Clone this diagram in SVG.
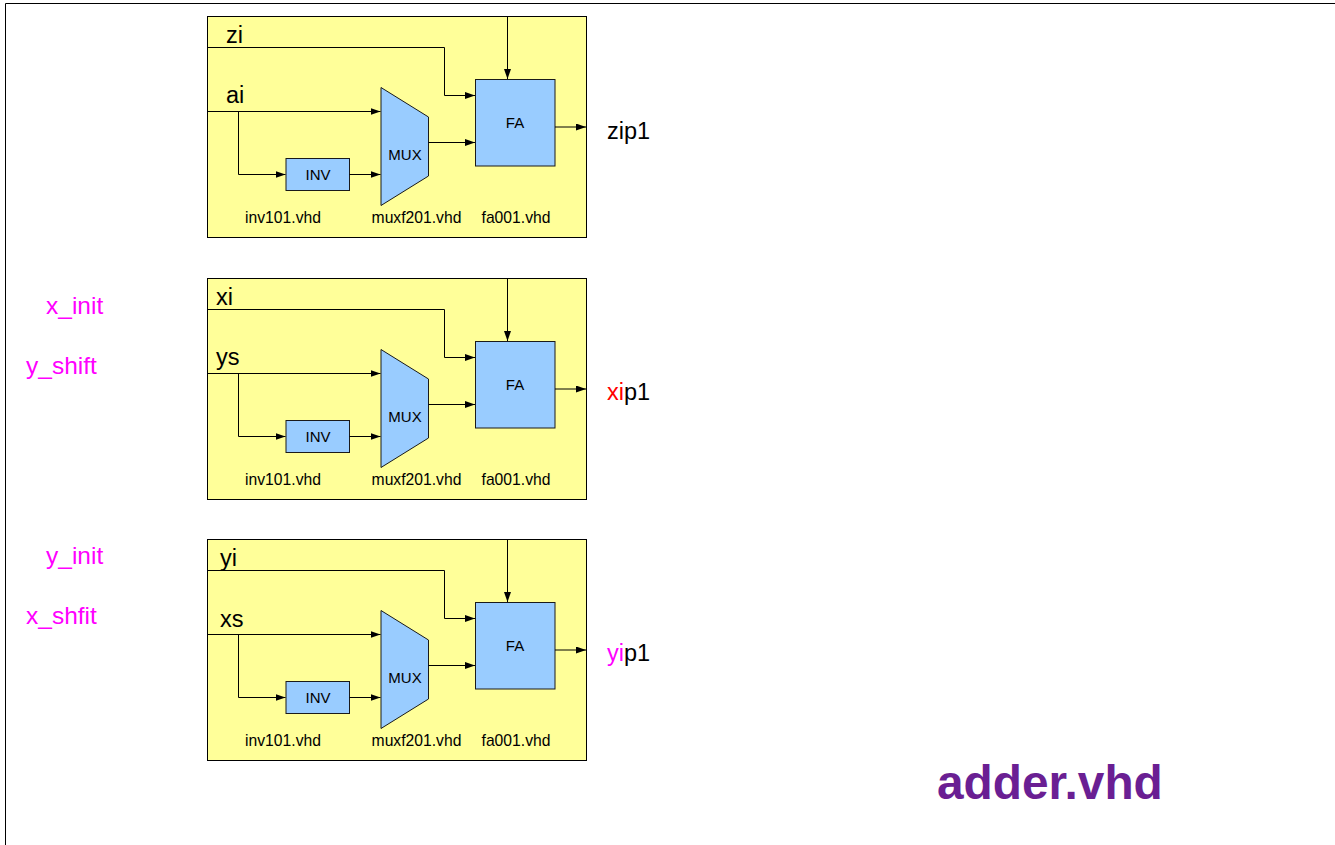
<svg xmlns="http://www.w3.org/2000/svg" width="1335" height="845" viewBox="0 0 1335 845">
<style>
text{font-family:"Liberation Sans",Arial,Helvetica,sans-serif;fill:#000}
.bg{fill:#ffff99;stroke:#000;stroke-width:1}
.bl{fill:#99ccff;stroke:#1a1a1a;stroke-width:1}
.c{fill:none;stroke:#000;stroke-width:1;marker-end:url(#a)}
.sig{font-size:23.5px}
.mux{font-size:15px;text-anchor:middle}
.file{font-size:15.7px;text-anchor:middle}
.out{font-size:23.5px}
.mg{font-size:24.5px;fill:#ff00ff}
</style>
<defs>
<marker id="a" markerUnits="userSpaceOnUse" markerWidth="10" markerHeight="7" refX="10" refY="3.500" orient="auto"><path d="M0 0L10 3.500L0 7Z" fill="#000"/></marker>
</defs>
<rect width="1335" height="845" fill="#fff"/>
<path id="frame" d="M5.500 845V3.500H1335" fill="none" stroke="#000" stroke-width="1"/>

<g id="block-zi">
<rect class="bg" x="207.500" y="16.500" width="379" height="221"/>
<text class="sig" x="226" y="43">zi</text>
<text class="sig" x="226" y="103">ai</text>
</g>
<g id="inv-1"><rect class="bl" x="286" y="158.500" width="63.500" height="32"/><text class="mux" x="318" y="180">INV</text><text class="file" x="283" y="223">inv101.vhd</text></g>
<g id="mux-1"><path class="bl" d="M381 87.500L428.500 117V176L381 205.500Z"/><text class="mux" x="405" y="160">MUX</text><text class="file" x="416.500" y="223">muxf201.vhd</text></g>
<g id="fa-1"><rect class="bl" x="475.500" y="79.500" width="79.500" height="86.500"/><text class="mux" x="515" y="128">FA</text><text class="file" x="516" y="223">fa001.vhd</text></g>
<g id="out-1"><text class="out" x="607" y="139">zip1</text></g>

<g id="block-xi">
<rect class="bg" x="207.500" y="278.500" width="379" height="221"/>
<text class="sig" x="216" y="305">xi</text>
<text class="sig" x="216" y="365">ys</text>
</g>
<g id="inv-2"><rect class="bl" x="286" y="420.500" width="63.500" height="32"/><text class="mux" x="318" y="442">INV</text><text class="file" x="283" y="485">inv101.vhd</text></g>
<g id="mux-2"><path class="bl" d="M381 349.500L428.500 379V438L381 467.500Z"/><text class="mux" x="405" y="422">MUX</text><text class="file" x="416.500" y="485">muxf201.vhd</text></g>
<g id="fa-2"><rect class="bl" x="475.500" y="341.500" width="79.500" height="86.500"/><text class="mux" x="515" y="390">FA</text><text class="file" x="516" y="485">fa001.vhd</text></g>
<g id="out-2"><text class="out" x="607" y="400"><tspan fill="#ff0000">xi</tspan>p1</text></g>

<g id="block-yi">
<rect class="bg" x="207.500" y="539.500" width="379" height="221"/>
<text class="sig" x="220" y="566">yi</text>
<text class="sig" x="220" y="627">xs</text>
</g>
<g id="inv-3"><rect class="bl" x="286" y="681.500" width="63.500" height="32"/><text class="mux" x="318" y="703">INV</text><text class="file" x="283" y="746">inv101.vhd</text></g>
<g id="mux-3"><path class="bl" d="M381 610.500L428.500 640V699L381 728.500Z"/><text class="mux" x="405" y="683">MUX</text><text class="file" x="416.500" y="746">muxf201.vhd</text></g>
<g id="fa-3"><rect class="bl" x="475.500" y="602.500" width="79.500" height="86.500"/><text class="mux" x="515" y="651">FA</text><text class="file" x="516" y="746">fa001.vhd</text></g>
<g id="out-3"><text class="out" x="607" y="661"><tspan fill="#ff00ff">yi</tspan>p1</text></g>

<g id="connectors">
<path class="c" d="M207.500 47.500H444.500V95.500H475"/>
<path class="c" d="M507.500 16.500V79"/>
<path class="c" d="M207.500 111.500H380.500"/>
<path class="c" d="M238.500 111.500V174.500H285.500"/>
<path class="c" d="M349.500 174.500H380.500"/>
<path class="c" d="M428.500 142.500H475"/>
<path class="c" d="M555 127H586"/>
<path class="c" d="M207.500 309.500H444.500V357.500H475"/>
<path class="c" d="M507.500 278.500V341"/>
<path class="c" d="M207.500 373.500H380.500"/>
<path class="c" d="M238.500 373.500V436.500H285.500"/>
<path class="c" d="M349.500 436.500H380.500"/>
<path class="c" d="M428.500 404.500H475"/>
<path class="c" d="M555 389H586"/>
<path class="c" d="M207.500 570.500H444.500V618.500H475"/>
<path class="c" d="M507.500 539.500V602"/>
<path class="c" d="M207.500 634.500H380.500"/>
<path class="c" d="M238.500 634.500V697.500H285.500"/>
<path class="c" d="M349.500 697.500H380.500"/>
<path class="c" d="M428.500 665.500H475"/>
<path class="c" d="M555 650H586"/>
</g>

<g id="labels">
<text class="mg" x="46" y="314">x_init</text>
<text class="mg" x="26" y="374">y_shift</text>
<text class="mg" x="46" y="564">y_init</text>
<text class="mg" x="26" y="624">x_shfit</text>
<text x="937" y="799" font-size="47.800" font-weight="bold" style="fill:#6a1f93">adder.vhd</text>
</g>
</svg>
